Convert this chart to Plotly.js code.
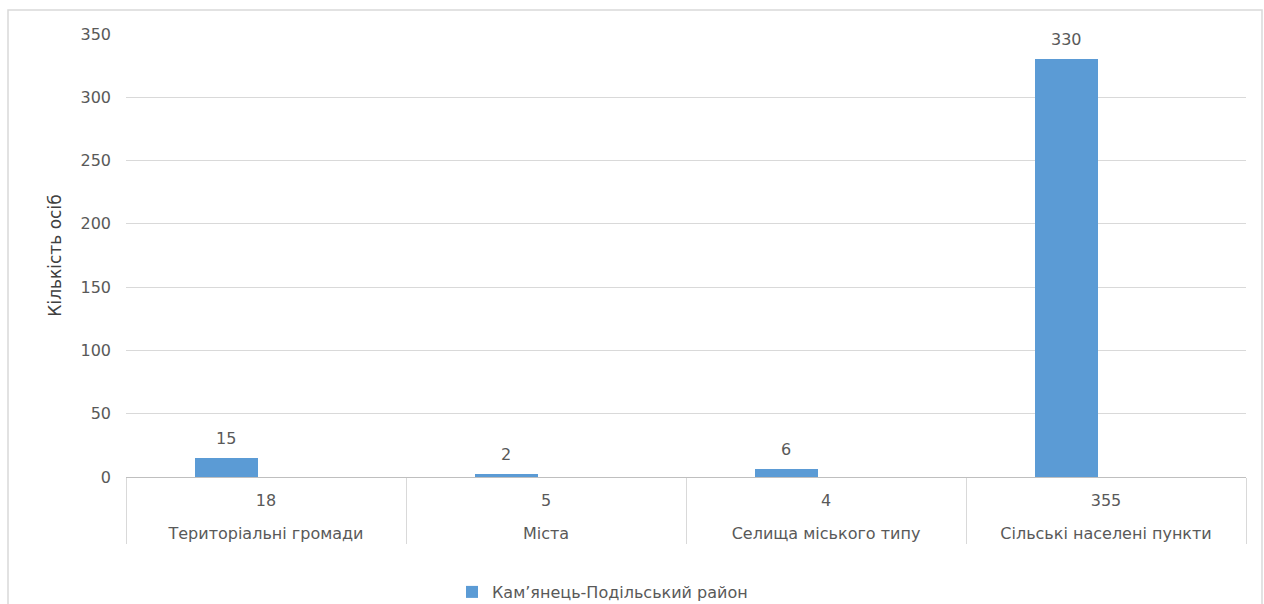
<!DOCTYPE html>
<html>
<head>
<meta charset="utf-8">
<script src="https://cdn.plot.ly/plotly-3.0.1.min.js"></script>
<style>html,body{margin:0;padding:0;background:#fff;}#chart{width:1264px;height:604px;}</style>
</head>
<body>
<div id="chart"></div>
<script>
const categories = ["Територіальні громади", "Міста", "Селища міського типу", "Сільські населені пункти"];
const totals = ["18", "5", "4", "355"];
const seriesName = "Кам’янець-Подільський район";
const values = [15, 2, 6, 330];
const yTitle = "Кількість осіб";

const FONT = "DejaVu Sans, Noto Sans, sans-serif";
const GREY = "#595959";
const BAR_W = 0.225, BAR_OFF = -0.255;

const trace = {
  type: "bar",
  name: seriesName,
  x: [categories.map(c => "\u00a0<br>" + c), totals],
  y: values,
  width: BAR_W,
  offset: BAR_OFF,
  marker: {color: "#5b9bd5"},
  showlegend: true,
  hoverinfo: "y"
};

const labelAnnotations = values.map((v, i) => ({
  xref: "x", yref: "y",
  x: i + BAR_OFF + BAR_W / 2,
  y: v,
  text: String(v),
  showarrow: false,
  xanchor: "center",
  yanchor: "bottom",
  yshift: 8,
  font: {family: FONT, size: 16, color: GREY}
}));

const layout = {
  width: 1264,
  height: 604,
  margin: {l: 126, r: 2, t: 34, b: 127, pad: 0},
  paper_bgcolor: "#ffffff",
  plot_bgcolor: "#ffffff",
  font: {family: FONT, size: 16, color: GREY},
  showlegend: true,
  bargap: 0,
  xaxis: {
    type: "multicategory",
    domain: [0, 1120 / 1136],
    showline: true,
    linecolor: "#bfbfbf",
    linewidth: 1,
    showgrid: false,
    ticks: "",
    showdividers: true,
    dividercolor: "#d9d9d9",
    dividerwidth: 1,
    ticklabelstandoff: 9,
    tickfont: {family: FONT, size: 16, color: GREY},
    range: [-0.5, 3.5]
  },
  yaxis: {
    range: [0, 350],
    dtick: 50,
    tick0: 0,
    showgrid: true,
    gridcolor: "#d9d9d9",
    gridwidth: 1,
    zeroline: false,
    showline: false,
    ticks: "",
    ticklabelstandoff: 14,
    tickfont: {family: FONT, size: 16, color: GREY},
    title: {text: yTitle, font: {family: FONT, size: 17, color: "#404040"}, standoff: 14}
  },
  legend: {
    orientation: "h",
    xref: "paper",
    yref: "container",
    x: 326 / 1136,
    xanchor: "left",
    y: 12 / 604,
    yanchor: "middle",
    font: {family: FONT, size: 16, color: GREY},
    itemwidth: 30
  },
  annotations: labelAnnotations,
  shapes: [{
    type: "rect",
    xref: "paper", yref: "paper",
    x0: -118 / 1136, x1: 1.0, y0: -0.32, y1: 1.0542,
    line: {color: "#d9d9d9", width: 1.5},
    fillcolor: "rgba(0,0,0,0)",
    layer: "below"
  }]
};

Plotly.newPlot("chart", [trace], layout, {displayModeBar: false, staticPlot: true});
</script>
</body>
</html>
